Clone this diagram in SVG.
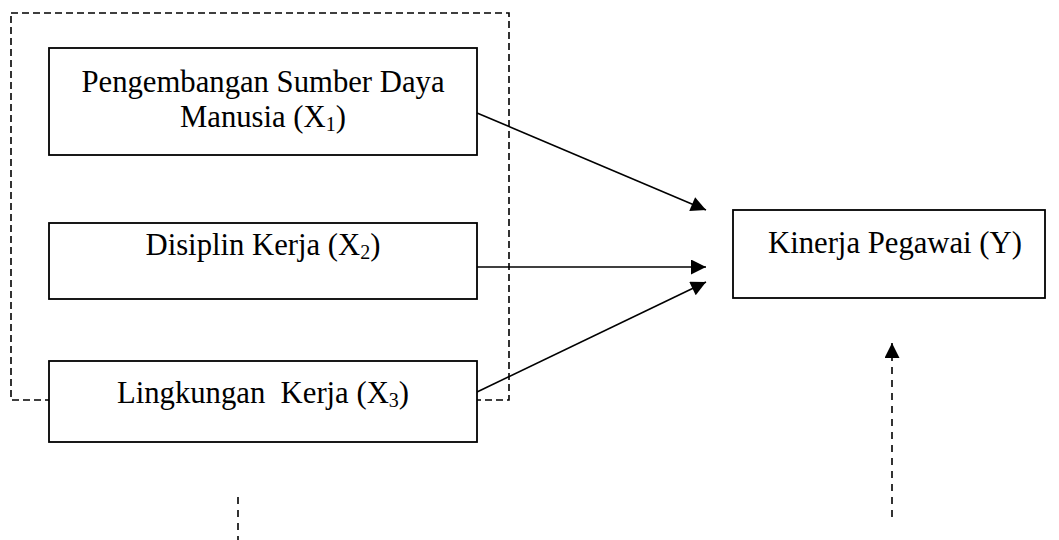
<svg xmlns="http://www.w3.org/2000/svg" width="1059" height="540" viewBox="0 0 1059 540">
<style>
.box{fill:#fff;stroke:#000;stroke-width:1.8}
.dash{fill:none;stroke:#000;stroke-width:1.6;stroke-dasharray:7 4}
.ln{fill:none;stroke:#000;stroke-width:1.6}
.t{font-family:"Liberation Serif","Times New Roman",serif;font-size:30.7px;fill:#000}
.sub{font-size:20px}
</style>
<defs>
<marker id="ahb" viewBox="0 0 10 10" refX="10" refY="5" markerWidth="16" markerHeight="15" markerUnits="userSpaceOnUse" orient="auto">
<path d="M0,0 L10,5 L0,10 Z" fill="#000"/>
</marker>
</defs>
<rect id="group-x" class="dash" x="11" y="13" width="498" height="387"/>
<g id="connectors">
<line class="ln" x1="477" y1="113" x2="706" y2="210" marker-end="url(#ahb)"/>
<line class="ln" x1="477" y1="267" x2="706" y2="267" marker-end="url(#ahb)"/>
<line class="ln" x1="477" y1="392" x2="706" y2="282" marker-end="url(#ahb)"/>
<line class="dash" x1="238" y1="497" x2="238" y2="540" style="stroke-dasharray:7 6"/>
<line class="dash" x1="892" y1="517" x2="892" y2="343" style="stroke-dasharray:7 6" marker-end="url(#ahb)"/>
</g>
<g id="x1">
<rect class="box" x="49" y="48" width="428" height="107"/>
<text class="t" x="263" y="92" text-anchor="middle">Pengembangan Sumber Daya</text>
<text class="t" x="263" y="127" text-anchor="middle">Manusia (X<tspan class="sub" dy="4">1</tspan><tspan dy="-4">)</tspan></text>
</g>
<g id="x2">
<rect class="box" x="49" y="223" width="428" height="76"/>
<text class="t" x="263" y="255" text-anchor="middle">Disiplin Kerja (X<tspan class="sub" dy="4">2</tspan><tspan dy="-4">)</tspan></text>
</g>
<g id="x3">
<rect class="box" x="49" y="361" width="428" height="81"/>
<text class="t" x="263" y="403" text-anchor="middle" xml:space="preserve">Lingkungan  Kerja (X<tspan class="sub" dy="4">3</tspan><tspan dy="-4">)</tspan></text>
</g>
<g id="y">
<rect class="box" x="733" y="210" width="312" height="88"/>
<text class="t" x="768" y="253">Kinerja Pegawai (Y)</text>
</g>
</svg>
